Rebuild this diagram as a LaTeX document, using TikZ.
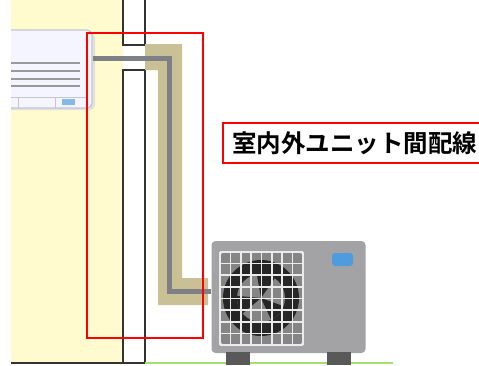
\documentclass[tikz,border=0pt]{standalone}
\usepackage{fontspec}
\newfontfamily\jpfont{Noto Sans CJK JP}[BoldFont={Noto Sans CJK JP Bold}]
\usepackage{tikz}
\usetikzlibrary{positioning,calc}
\definecolor{wallyellow}{HTML}{FFFBCF}
\definecolor{pipetan}{HTML}{C9C096}
\definecolor{pipegray}{HTML}{7F7F86}
\definecolor{unitgray}{HTML}{A3A3A6}
\definecolor{unitedge}{HTML}{C3C7D4}
\definecolor{grassgreen}{HTML}{A6E06A}
\definecolor{ledblue}{HTML}{4F9BE0}
\tikzstyle{wall}=[draw=black!80,line width=1.3pt]
\tikzstyle{indoor}=[draw=unitedge,fill=white!96!blue,line width=1.2pt,rounded corners=5pt,minimum width=112pt,minimum height=78pt,inner sep=0pt]
\tikzstyle{outdoor}=[fill=unitgray,rounded corners=4pt,minimum width=154pt,minimum height=112pt,inner sep=0pt]
\tikzstyle{pipe}=[pipegray,line width=5pt]
\tikzstyle{redbox}=[draw=red,line width=2pt]

\begin{document}
\begin{tikzpicture}[x=1pt,y=-1pt]
	\useasboundingbox (0,0) rectangle (479,365);
	\clip (11,-2) rectangle (479,365);
	
	\fill[wallyellow] (11,-2) rectangle (123,363); % inside room
	\fill[white] (123,-2) rectangle (145,363);
	
	% outer wall with the sleeve hole
	\draw[wall] (123,-2) -- (123,45) -- (145,45) -- (145,-2);
	\draw[wall] (123,363) -- (123,70) -- (145,70) -- (145,363);
	\draw[black!80,line width=1.3pt] (11,363) -- (145,363);
	\draw[grassgreen,line width=1.3pt] (145,363) -- (393,363);
	
	% piping cover
	\fill[pipetan] (145,44) -- (182,44) -- (182,278) -- (208,278) -- (208,305)
		-- (158,305) -- (158,70) -- (145,70) -- cycle;
	
	% indoor unit
	\fill[black!12,rounded corners=5pt] (-18,33) rectangle (95,110); % shadow
	\node[indoor] (indoor) at (36,69) {};
	\foreach \yy in {63,71,79,86}{
		\draw[black!40,line width=1.2pt] (11,\yy) -- (80,\yy);
	}
	\draw[unitedge,line width=0.8pt] (11,97) -- (86,97);
	\draw[unitedge,line width=0.8pt] (18,97) -- (18,108) (55,97) -- (55,108);
	\fill[ledblue!70] (62,99) rectangle (75,105);
	
	% outdoor unit
	\node[outdoor] (outdoor) at (288.5,297) {};
	\fill[black!65] (226,352) rectangle (250,365);
	\fill[black!65] (327,352) rectangle (351,365);
	\fill[black!48] (220,252) rectangle (303,345);
	\fill[black!85] (261,298) circle (38);
	\fill[black!48] (261,298) circle (24);
	\foreach \ang in {20,140,260}{
		\fill[black!85] (261,298) -- ++(\ang:24) arc (\ang:\ang+45:24) -- cycle;
	}
	\foreach \i in {0,...,8}{
		\draw[white!92!black,line width=1.6pt] ($(220,252)+(\i*10.375,0)$) -- ++(0,93);
		\draw[white!92!black,line width=1.6pt] ($(220,252)+(0,\i*11.625)$) -- ++(83,0);
	}
	\draw[white!92!black,line width=1.6pt,rounded corners=3pt] (220,252) rectangle (303,345);
	\fill[ledblue,rounded corners=3pt] (332,253) rectangle (353,266);
	
	% interconnecting wiring
	\draw[pipe] (indoor.east |- 0,58) -- (169,58) -- (169,291) -- (outdoor.west |- 0,291);
	
	\draw[redbox] (87,33) rectangle (203,338);
	\node[redbox,anchor=west,fill=white,minimum height=40pt,minimum width=270pt,inner sep=0pt,
		text width=262pt,align=left,font=\jpfont\bfseries\fontsize{24.5pt}{24.5pt}\selectfont]
		(label) at (222,143) {\hspace{5pt}室内外ユニット間配線};
\end{tikzpicture}
\end{document}
